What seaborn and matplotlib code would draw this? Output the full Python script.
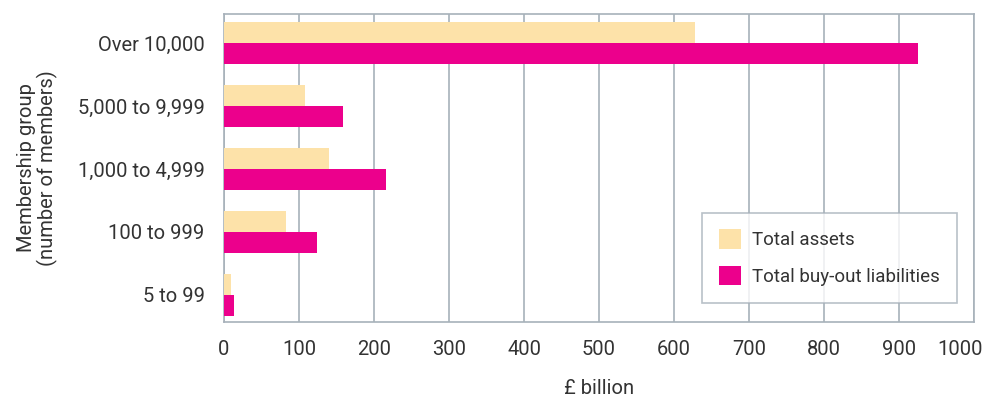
import matplotlib
matplotlib.use("Agg")
import matplotlib.pyplot as plt
import matplotlib.transforms as mtransforms
import seaborn as sns
import pandas as pd

groups = ["Over 10,000", "5,000 to 9,999", "1,000 to 4,999", "100 to 999", "5 to 99"]
total_assets = [628, 108, 140, 83, 9]
total_liabilities = [925, 159, 216, 124, 13]
series_names = ["Total assets", "Total buy-out liabilities"]
x_ticks = [0, 100, 200, 300, 400, 500, 600, 700, 800, 900, 1000]

df = pd.DataFrame({
    "group": groups * 2,
    "value": total_assets + total_liabilities,
    "series": [series_names[0]] * len(groups) + [series_names[1]] * len(groups),
})

sns.set_style("white")
plt.rcParams["font.family"] = ["Roboto", "DejaVu Sans"]

text_c = "#333333"
grid_c = "#a7b1ba"
fs = 14.5

fig = plt.figure(figsize=(9.84, 3.98), dpi=100)
ax = fig.add_axes([224 / 984, 1 - 322 / 398, 750 / 984, 308 / 398])

sns.barplot(data=df, y="group", x="value", hue="series", order=groups,
            hue_order=series_names, palette=["#fde2a9", "#ec008c"],
            orient="h", width=0.68, saturation=1, ax=ax, zorder=3,
            linewidth=0, edgecolor="none")

ax.set_xlim(0, 1000)
ax.set_ylim(4.43, -0.46)
ax.set_xticks(x_ticks)
ax.set_xticklabels([str(t) for t in x_ticks], fontsize=fs, color=text_c)
ax.set_yticks(range(len(groups)))
ax.set_yticklabels(groups, fontsize=fs, color=text_c)
ax.tick_params(axis="x", length=7, width=1.2, color=grid_c, pad=6)
ax.tick_params(axis="y", length=0, pad=14)
ax.xaxis.grid(True, color=grid_c, linewidth=1.2, zorder=0)
ax.set_axisbelow(True)
for s in ax.spines.values():
    s.set_color(grid_c)
    s.set_linewidth(1.2)

# shift the last tick label left so it stays inside the figure, as in the reference
last = ax.get_xticklabels()[-1]
last.set_transform(last.get_transform() + mtransforms.ScaledTranslation(-14 / 100, 0, fig.dpi_scale_trans))

ax.set_xlabel("£ billion", fontsize=fs, color=text_c, labelpad=14)
ax.set_ylabel("Membership group\n(number of members)", fontsize=fs, color=text_c,
              labelpad=14, linespacing=1.1)

leg = ax.legend(loc="lower right", bbox_to_anchor=(957 / 984, 1 - 303 / 398),
                bbox_transform=fig.transFigure, frameon=True, fancybox=False,
                fontsize=13.5, handlelength=1.2, handleheight=1.2,
                borderpad=0.9, labelspacing=0.9, handletextpad=0.6, borderaxespad=0)
leg.get_frame().set_edgecolor(grid_c)
leg.get_frame().set_linewidth(1.2)
for t in leg.get_texts():
    t.set_color(text_c)

fig.savefig("out.png", dpi=100)
